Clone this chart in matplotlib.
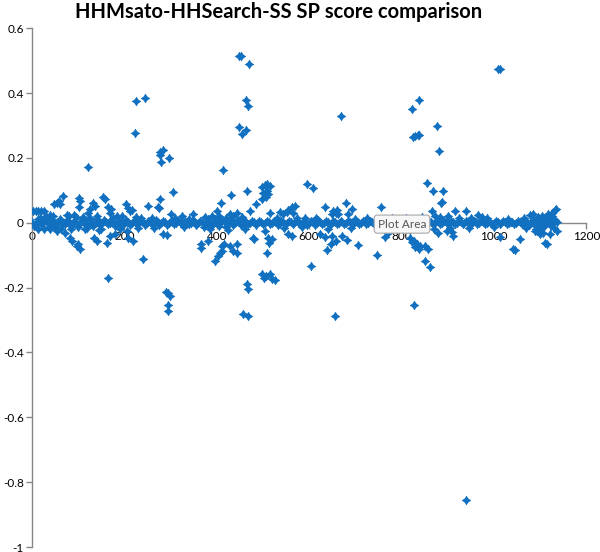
import matplotlib
matplotlib.use("Agg")
import matplotlib.pyplot as plt
from matplotlib.path import Path

# ---------------- data ----------------
band_x = [0, 8, 16, 24, 32, 40, 48, 56, 64, 72, 80, 88, 96, 104, 112, 120, 128, 136, 144, 152,
          160, 168, 176, 184, 192, 200, 208, 216, 224, 232, 240, 248, 256, 264, 272, 280, 288, 296, 304, 312,
          320, 328, 336, 344, 352, 360, 368, 376, 384, 392, 400, 408, 416, 424, 432, 440, 448, 456, 464, 472,
          480, 488, 496, 504, 512, 520, 528, 536, 544, 552, 560, 568, 576, 584, 592, 600, 608, 616, 624, 632,
          640, 648, 656, 664, 672, 680, 688, 696, 704, 712, 720, 728, 736, 744, 752, 760, 768, 776, 784, 792,
          800, 808, 816, 824, 832, 840, 848, 856, 864, 872, 880, 888, 896, 904, 912, 920, 928, 936, 944, 952,
          960, 968, 976, 984, 992, 1000, 1008, 1016, 1024, 1032, 1040, 1048, 1056, 1064, 1072, 1080, 1088, 1096, 1104, 1112,
          1120, 1128, 1136]
band_y = [0.002, -0.003, 0.004, -0.002, 0.001, -0.004, 0.003, -0.001, 0.002, -0.003, 0.001, -0.002, 0.003, -0.001, 0.002, -0.003, 0.001, -0.002, 0.003, -0.001,
          0.002, -0.002, 0.001, -0.003, 0.002, -0.001, 0.001, -0.002, 0.002, -0.001, 0.001, -0.002, 0.002, -0.001, 0.001, -0.002, 0.002, -0.001, 0.001, -0.002,
          0.001, -0.001, 0.002, -0.002, 0.001, -0.002, 0.003, -0.003, 0.002, -0.004, 0.003, -0.002, 0.004, -0.003, 0.002, -0.002, 0.001, -0.002, 0.002, -0.001,
          0.001, -0.002, 0.002, -0.001, 0.001, -0.002, 0.002, -0.001, 0.001, -0.002, 0.002, -0.001, 0.001, -0.002, 0.001, -0.002, 0.003, -0.002, 0.002, -0.002,
          0.002, -0.003, 0.002, -0.002, 0.001, -0.002, 0.001, -0.001, 0.001, -0.001, 0.001, -0.001, 0.001, -0.001, 0.001, -0.001, 0.001, -0.001, 0.001, -0.001,
          0.001, -0.002, 0.002, -0.003, 0.002, -0.002, 0.001, -0.002, 0.002, -0.001, 0.001, -0.001, 0.001, -0.001, 0.001, -0.001, 0.002, -0.001, 0.002, -0.002,
          0.002, -0.001, 0.001, -0.001, 0.001, -0.001, 0.001, -0.001, 0.001, -0.001, 0.001, -0.001, 0.001, -0.001, 0.002, -0.002, 0.003, -0.003, 0.003, -0.003,
          0.002, -0.002, 0.001]

band2_x = [4, 12, 20, 28, 36, 44, 52, 60, 68, 76, 84, 92, 100, 108, 116, 124, 132, 140, 148, 156,
           164, 172, 180, 188, 196, 204, 212, 220, 228, 236, 244, 252, 260, 268, 276, 284, 292, 300, 308, 316,
           324, 332, 340, 348, 356, 364, 372, 380, 388, 396, 404, 412, 420, 428, 436, 444, 452, 460, 468, 476,
           484, 492, 500, 508, 516, 524, 532, 540, 548, 556, 564, 572, 580, 588, 596, 604, 612, 620, 628, 636,
           644, 652, 660, 668, 676, 684, 692, 700, 708, 716, 724, 732, 740, 748, 756, 764, 772, 780, 788, 796,
           804, 812, 820, 828, 836, 844, 852, 860, 868, 876, 884, 892, 900, 908, 916, 924, 932, 940, 948, 956,
           964, 972, 980, 988, 996, 1004, 1012, 1020, 1028, 1036, 1044, 1052, 1060, 1068, 1076, 1084, 1092, 1100, 1108, 1116,
           1124, 1132]
band2_y = [-0.010, 0.013, -0.004, 0.009, -0.012, 0.007, -0.009, 0.011, -0.005, 0.008, -0.011, 0.006, -0.012, 0.010, -0.006, 0.007, -0.010, 0.012, -0.007, 0.009,
           -0.005, 0.008, -0.009, 0.005, -0.006, 0.009, -0.007, 0.006, -0.004, 0.007, -0.006, 0.004, -0.005, 0.007, -0.006, 0.005, -0.007, 0.006, -0.004, 0.005,
           -0.005, 0.006, -0.004, 0.007, -0.006, 0.005, -0.012, 0.010, -0.009, 0.013, -0.011, 0.009, -0.013, 0.011, -0.007, 0.009, -0.006, 0.006, -0.005, 0.006,
           -0.006, 0.005, -0.004, 0.006, -0.005, 0.004, -0.006, 0.005, -0.004, 0.006, -0.005, 0.005, -0.004, 0.006, -0.007, 0.005, -0.006, 0.007, -0.005, 0.006,
           -0.007, 0.006, -0.005, 0.005, -0.004, 0.004, -0.005, 0.003, -0.004, 0.004, -0.003, 0.004, -0.004, 0.003, -0.004, 0.004, -0.003, 0.004, -0.004, 0.005,
           -0.005, 0.006, -0.007, 0.005, -0.008, 0.006, -0.006, 0.005, -0.005, 0.004, -0.004, 0.005, -0.003, 0.004, -0.004, 0.005, -0.005, 0.006, -0.006, 0.005,
           -0.005, 0.006, -0.004, 0.003, -0.004, 0.004, -0.003, 0.004, -0.004, 0.003, -0.004, 0.004, -0.005, 0.005, -0.007, 0.007, -0.009, 0.009, -0.011, 0.011,
           -0.009, 0.007]

near_x = [2, 8, 14, 20, 26, 13, 48, 54, 61, 67, 58, 102, 104, 102, 121, 126, 132, 136, 154, 158,
          165, 171, 169, 204, 208, 212, 217, 251, 275, 301, 325, 349, 400, 405, 429, 435, 444, 472, 485,
          537, 544, 552, 555, 565, 570, 563, 574, 30, 40, 80, 90, 110, 140, 185, 225, 36,
          122, 305, 277, 413, 431, 465, 409, 273,
          498, 505, 509, 516, 500, 509, 511, 507, 498, 516,
          596, 609, 855, 869, 890, 886, 635, 680, 756, 650, 657, 663, 652, 660, 685, 693, 866, 873, 884,
          916, 940, 966, 975, 1079, 1085, 1111, 1118, 1126, 1133, 1135, 888,
          71, 82, 87, 97, 104, 100, 134, 141, 169, 162, 180, 206, 208, 219, 40, 55, 62, 115, 150,
          284, 292, 366, 381, 366, 396, 403, 407, 412, 429, 435, 444, 412, 416, 444, 481, 479,
          505, 511, 509, 514, 520, 554, 563,
          604, 639, 647, 658, 635, 624, 650, 671, 682, 706, 747, 765, 771,
          819, 826, 834, 840, 822, 830, 838, 851, 851, 862, 858, 879, 899, 910, 912,
          1014, 1042, 1046, 1057, 1089, 1094, 1100, 1107, 1111, 1115, 1122, 1137,
          18, 45, 75, 95, 125, 175, 195, 235, 260, 310, 340, 375, 390, 420, 455, 530, 590, 615, 700, 725,
          780, 810, 845, 900, 925, 950, 985, 1030, 1065, 1095, 1105, 1125,
          25, 50, 85, 120, 145, 190, 230, 265, 330, 385, 425, 460, 545, 585, 640, 690, 760, 815, 870, 905,
          945, 1000, 1070, 1090, 1102, 1130]
near_y = [0.037, 0.037, 0.037, 0.037, 0.035, -0.018, 0.058, 0.062, 0.058, 0.083, 0.066, 0.077, 0.068, 0.049, 0.031, 0.043, 0.062, 0.052, 0.080, 0.074,
          0.049, 0.043, 0.031, 0.058, 0.046, 0.037, 0.040, 0.052, 0.046, 0.028, 0.022, 0.028, 0.037, 0.022, 0.028, 0.022, 0.031, 0.037, 0.058,
          0.034, 0.028, 0.034, 0.040, 0.031, 0.052, 0.049, 0.015, 0.020, 0.025, 0.020, 0.025, 0.018, 0.020, 0.020, 0.018, 0.015,
          0.172, 0.095, 0.074, 0.163, 0.086, 0.098, 0.062, 0.049,
          0.111, 0.117, 0.120, 0.114, 0.092, 0.098, 0.089, 0.080, 0.074, 0.031,
          0.120, 0.108, 0.123, 0.098, 0.098, 0.062, 0.049, 0.062, 0.049, 0.028, 0.031, 0.028, 0.037, 0.040, 0.028, 0.043, 0.037, 0.022, 0.018,
          0.037, 0.037, 0.025, 0.018, 0.025, 0.028, 0.015, 0.028, 0.031, 0.040, 0.043, 0.065,
          -0.031, -0.046, -0.055, -0.071, -0.080, -0.065, -0.046, -0.055, -0.040, -0.062, -0.034, -0.025, -0.046, -0.055, -0.020, -0.025, -0.018, -0.020, -0.020,
          -0.034, -0.037, -0.077, -0.055, -0.065, -0.117, -0.102, -0.092, -0.086, -0.071, -0.086, -0.065, -0.071, -0.065, -0.092, -0.049, -0.046,
          -0.025, -0.046, -0.092, -0.062, -0.049, -0.034, -0.040,
          -0.132, -0.083, -0.065, -0.055, -0.043, -0.034, -0.040, -0.040, -0.052, -0.068, -0.100, -0.043, -0.031,
          -0.046, -0.055, -0.065, -0.071, -0.060, -0.075, -0.080, -0.071, -0.117, -0.135, -0.080, -0.031, -0.025, -0.030, -0.040,
          -0.043, -0.080, -0.083, -0.049, -0.025, -0.025, -0.034, -0.031, -0.062, -0.065, -0.034, -0.025,
          0.016, 0.020, 0.024, 0.018, 0.014, 0.016, 0.022, 0.015, 0.014, 0.016, 0.012, 0.018, 0.020, 0.016, 0.018, 0.014, 0.016, 0.015, 0.013, 0.015,
          0.014, 0.016, 0.018, 0.020, 0.014, 0.016, 0.015, 0.013, 0.016, 0.018, 0.020, 0.022,
          -0.018, -0.016, -0.020, -0.015, -0.022, -0.018, -0.016, -0.015, -0.014, -0.020, -0.022, -0.018, -0.016, -0.014, -0.018, -0.015, -0.013, -0.020, -0.018, -0.016,
          -0.015, -0.014, -0.016, -0.018, -0.020, -0.016]

far_x = [225, 245, 223, 277, 284, 277, 297, 279,
         448, 452, 470, 463, 468, 449, 463, 454,
         669, 838, 823, 877, 825, 830, 835, 838, 881, 1009, 1012,
         165, 240, 290, 295, 299, 295, 295,
         465, 468, 457, 468,
         498, 502, 507, 516, 520, 526,
         656, 826, 940]
far_y = [0.375, 0.385, 0.277, 0.218, 0.224, 0.209, 0.200, 0.186,
         0.513, 0.513, 0.490, 0.378, 0.360, 0.295, 0.286, 0.274,
         0.329, 0.378, 0.350, 0.298, 0.265, 0.267, 0.270, 0.272, 0.222, 0.474, 0.474,
         -0.169, -0.111, -0.215, -0.218, -0.225, -0.254, -0.272,
         -0.188, -0.203, -0.280, -0.289,
         -0.157, -0.169, -0.163, -0.157, -0.172, -0.178,
         -0.289, -0.254, -0.856]

x_ticks = [0, 200, 400, 600, 800, 1000, 1200]
y_ticks = [-1, -0.8, -0.6, -0.4, -0.2, 0, 0.2, 0.4, 0.6]
y_tick_labels = ["-1", "-0.8", "-0.6", "-0.4", "-0.2", "0", "0.2", "0.4", "0.6"]
title = "HHMsato-HHSearch-SS SP score comparison"

# ---------------- style ----------------
plt.rcParams['font.family'] = ['Lato', 'DejaVu Sans']
marker_color = '#1170c0'
axis_color = '#868686'

star = Path([(0, 1), (0.4, 0.4), (1, 0), (0.4, -0.4), (0, -1), (-0.4, -0.4),
             (-1, 0), (-0.4, 0.4), (0, 1)],
            [Path.MOVETO] + [Path.LINETO] * 7 + [Path.CLOSEPOLY])

fig = plt.figure(figsize=(6.0, 5.52), dpi=100)
ax = fig.add_axes([0.0533, 0.009, 0.924, 0.940])

for xs, ys in [(band_x, band_y), (band2_x, band2_y), (near_x, near_y), (far_x, far_y)]:
    ax.scatter(xs, ys, marker=star, s=48, color=marker_color, linewidths=0, zorder=3)

ax.set_xlim(0, 1200)
ax.set_ylim(-1, 0.6)
ax.set_xticks(x_ticks)
ax.set_xticklabels([str(v) for v in x_ticks])
ax.set_yticks(y_ticks)
ax.set_yticklabels(y_tick_labels)

ax.spines['top'].set_visible(False)
ax.spines['right'].set_visible(False)
ax.spines['bottom'].set_position(('data', 0))
for sp in ('left', 'bottom'):
    ax.spines[sp].set_color(axis_color)
    ax.spines[sp].set_linewidth(1.0)
ax.tick_params(axis='both', colors=axis_color, labelcolor='black', labelsize=8.5,
               length=4, width=1.0, direction='out', pad=2)

fig.text(0.465, 0.978, title, ha='center', va='center', fontsize=14.5, fontweight='bold')

fig.text(0.670, 0.594, "Plot Area", ha='center', va='center', fontsize=8.5, color='#555555',
         bbox=dict(boxstyle='round,pad=0.3,rounding_size=0.25', fc='#f7f7f7', ec='#a8a8a8', lw=0.8),
         zorder=10)

fig.savefig('out.png', dpi=100, facecolor='white')
